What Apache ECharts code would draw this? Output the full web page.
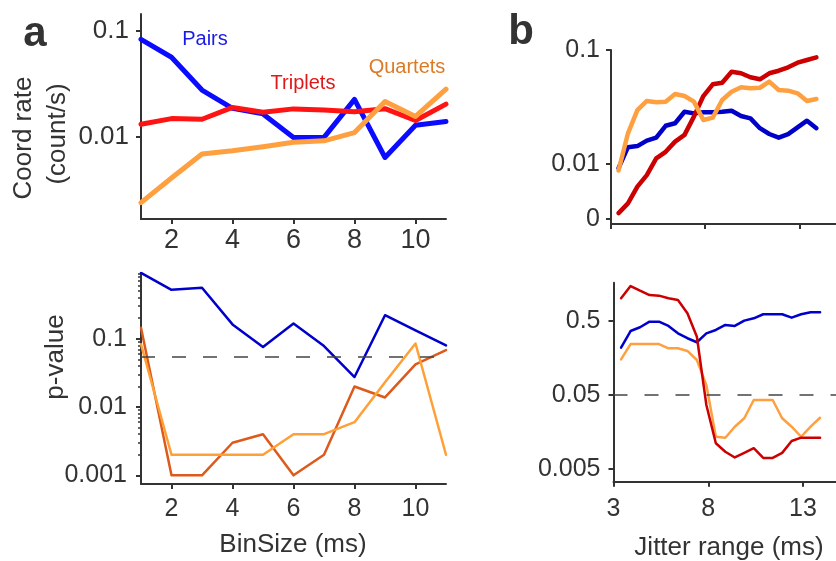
<!DOCTYPE html>
<html>
<head>
<meta charset="utf-8">
<script src="https://cdn.jsdelivr.net/npm/echarts@6/dist/echarts.min.js"></script>
<style>
  html, body { margin: 0; padding: 0; background: #fff; }
  #chart { width: 836px; height: 561px; }
</style>
</head>
<body>
<div id="chart"></div>
<script>
// ---- Panel a: coordination rate and p-value against bin size ----
const binSize = [1, 2, 3, 4, 5, 6, 7, 8, 9, 10, 11];
const binTicks = [2, 4, 6, 8, 10];

const ratePairs    = [0.0834, 0.0565, 0.0277, 0.0186, 0.0165, 0.0099, 0.0099, 0.0226, 0.0064, 0.0129, 0.0140];
const rateTriplets = [0.0132, 0.0149, 0.0147, 0.0190, 0.0171, 0.0184, 0.0180, 0.0173, 0.0185, 0.0143, 0.0204];
const rateQuartets = [0.0024, 0.0041, 0.0069, 0.0074, 0.0081, 0.0089, 0.0092, 0.0110, 0.0216, 0.0156, 0.0282];

const pPairs    = [0.92, 0.52, 0.556, 0.162, 0.0755, 0.167, 0.078, 0.0275, 0.221, 0.132, 0.080];
const pTriplets = [0.145, 0.001, 0.001, 0.003, 0.004, 0.001, 0.002, 0.020, 0.0138, 0.042, 0.068];
const pQuartets = [0.083, 0.002, 0.002, 0.002, 0.002, 0.004, 0.004, 0.006, 0.023, 0.085, 0.002];
const pThresholdA = 0.054;

const rateTicksA = [0.01, 0.1];
const pTicksA = [0.001, 0.01, 0.1];

// ---- Panel b: coordination rate and p-value against jitter range ----
const jitterRange = [3.4, 3.9, 4.4, 4.9, 5.4, 5.9, 6.4, 6.9, 7.4, 7.9, 8.4,
                     8.9, 9.4, 9.9, 10.4, 10.9, 11.4, 11.9, 12.4, 12.9, 13.4, 13.9];
const jitterTicks = [3, 8, 13];

const jitRatePairs    = [0.0089, 0.0153, 0.0157, 0.0178, 0.0190, 0.0245, 0.0258, 0.0325, 0.0315, 0.0322, 0.0322,
                         0.0325, 0.0332, 0.0299, 0.0285, 0.0233, 0.0206, 0.0190, 0.0205, 0.0237, 0.0272, 0.0233];
const jitRateTriplets = [0.0007, 0.0020, 0.0048, 0.0072, 0.0116, 0.0137, 0.0174, 0.0202, 0.0295, 0.0439, 0.0545,
                         0.0561, 0.0684, 0.0665, 0.0619, 0.0597, 0.0665, 0.0696, 0.0739, 0.0802, 0.0841, 0.0881];
const jitRateQuartets = [0.0083, 0.0209, 0.0336, 0.0400, 0.0390, 0.0395, 0.0456, 0.0439, 0.0395, 0.0276, 0.0289,
                         0.0408, 0.0476, 0.0516, 0.0507, 0.0512, 0.0572, 0.0491, 0.0485, 0.0462, 0.0400, 0.0415];

const jitPPairs    = [0.217, 0.364, 0.409, 0.486, 0.486, 0.426, 0.339, 0.291, 0.257, 0.339, 0.376,
                      0.439, 0.426, 0.502, 0.540, 0.612, 0.612, 0.612, 0.551, 0.612, 0.651, 0.651];
const jitPTriplets = [1.005, 1.47, 1.27, 1.11, 1.09, 1.005, 0.953, 0.631, 0.305, 0.0367, 0.0112,
                      0.0086, 0.0072, 0.0083, 0.0096, 0.0071, 0.0071, 0.0083, 0.0120, 0.0133, 0.0133, 0.0133];
const jitPQuartets = [0.151, 0.243, 0.243, 0.243, 0.243, 0.213, 0.213, 0.196, 0.148, 0.068, 0.0137,
                      0.0133, 0.0187, 0.0243, 0.0428, 0.0428, 0.0428, 0.0243, 0.0187, 0.0137, 0.0187, 0.0247];
const pThresholdB = 0.05;

const rateTicksB = [0, 0.01, 0.1];
const pTicksB = [0.005, 0.05, 0.5];

// ---- scale transforms (log axes drawn on value axes) ----
const RATE_OFFSET = 0.007;                  // offset so that a zero rate can be shown on the log scale
const lg = v => Math.log10(v);
const lgOff = v => Math.log10(v + RATE_OFFSET);
const pts = (xs, vs, f) => xs.map((x, i) => [x, f(vs[i])]);
const key = v => v.toFixed(5);
function tickSet(values, f) {
  const map = {};
  values.forEach(v => { map[key(f(v))] = String(v); });
  return { positions: values.map(f), fmt: t => (map[key(t)] !== undefined ? map[key(t)] : '') };
}
const yTickA1 = tickSet(rateTicksA, lg);
const yTickA2 = tickSet(pTicksA, lg);
const yTickB1 = tickSet(rateTicksB, lgOff);
const yTickB2 = tickSet(pTicksB, lg);
const minorA2 = [];
[0.001, 0.01, 0.1].forEach(d => { for (let k = 2; k <= 9; k++) minorA2.push(lg(k * d)); });

// ---- styling ----
const INK = '#333333';
const FONT = 'Liberation Sans, Arial, Helvetica, sans-serif';
const axisLine = { show: true, onZero: false, lineStyle: { color: INK, width: 2 } };
const axisTick = (vals, len) => ({ show: true, inside: false, length: len, customValues: vals, lineStyle: { color: INK, width: 2 } });
const label = (vals, fmt, margin, size, show) => ({
  show: show !== false, customValues: vals, formatter: fmt, margin: margin,
  color: INK, fontSize: size, fontFamily: FONT
});
const line = (name, xi, yi, data, color, width, extra) => Object.assign({
  name, type: 'line', xAxisIndex: xi, yAxisIndex: yi, data,
  symbol: 'none', smooth: false, clip: true,
  lineStyle: { color, width, cap: 'round', join: 'round' }, itemStyle: { color },
  emphasis: { disabled: true }, silent: true
}, extra || {});
const dashed = v => ({
  silent: true, symbol: 'none', animation: false,
  label: { show: false },
  lineStyle: { type: [14, 17], color: '#444', width: 1.6 },
  data: [{ yAxis: v }]
});

const C = {
  blueA: '#0b0bff', redA: '#ff1414', orangeA: '#ffa040',
  blueP: '#0000cc', darkOrangeP: '#dc5a1c', orangeP: '#ffa036',
  blueB: '#0000c8', redB: '#cc0000', orangeB: '#ffa040'
};

const option = {
  animation: false,
  backgroundColor: '#ffffff',
  grid: [
    { left: 141, top: 14, width: 305, height: 205, outerBoundsMode: 'none' },
    { left: 141, top: 273, width: 305, height: 211, outerBoundsMode: 'none' },
    { left: 611, top: 50, width: 225, height: 174, outerBoundsMode: 'none' },
    { left: 613.5, top: 282.7, width: 222.5, height: 199, outerBoundsMode: 'none' }
  ],
  xAxis: [
    { type: 'value', gridIndex: 0, position: 'bottom', min: 1, max: 11, axisLine, axisTick: axisTick(binTicks, 5),
      axisLabel: label(binTicks, v => String(v), 8, 27), splitLine: { show: false } },
    { type: 'value', gridIndex: 1, position: 'bottom', min: 1, max: 11, axisLine, axisTick: axisTick(binTicks, 5),
      axisLabel: label(binTicks, v => String(v), 13, 25), splitLine: { show: false } },
    { type: 'value', gridIndex: 2, position: 'bottom', min: 3, max: 14.94, axisLine, axisTick: axisTick(jitterTicks, 5),
      axisLabel: label(jitterTicks, v => String(v), 10, 25, false), splitLine: { show: false } },
    { type: 'value', gridIndex: 3, position: 'bottom', min: 3, max: 14.74, axisLine, axisTick: axisTick(jitterTicks, 5),
      axisLabel: label(jitterTicks, v => String(v), 15, 25), splitLine: { show: false } }
  ],
  yAxis: [
    { type: 'value', gridIndex: 0, position: 'left', min: -2.774, max: -0.84, axisLine,
      axisTick: axisTick(yTickA1.positions, 5),
      axisLabel: label(yTickA1.positions, yTickA1.fmt, 12, 26), splitLine: { show: false } },
    { type: 'value', gridIndex: 1, position: 'left', min: -3.127, max: -0.038, axisLine,
      axisTick: axisTick(yTickA2.positions, 5),
      axisLabel: label(yTickA2.positions, yTickA2.fmt, 14, 25), splitLine: { show: false } },
    { type: 'value', gridIndex: 2, position: 'left', min: -2.19, max: lgOff(0.1), axisLine,
      axisTick: axisTick(yTickB1.positions, 5),
      axisLabel: label(yTickB1.positions, yTickB1.fmt, 11, 25), splitLine: { show: false } },
    { type: 'value', gridIndex: 3, position: 'left', min: -2.469, max: 0.212, axisLine,
      axisTick: axisTick(yTickB2.positions, 5),
      axisLabel: label(yTickB2.positions, yTickB2.fmt, 13, 25), splitLine: { show: false } },
    // minor log ticks on the p-value axis of panel a
    { type: 'value', gridIndex: 1, position: 'left', offset: 0, min: -3.127, max: -0.038,
      axisLine: { show: false, onZero: false },
      axisTick: { show: true, inside: false, length: 3, customValues: minorA2, lineStyle: { color: INK, width: 1.5 } },
      axisLabel: { show: false }, splitLine: { show: false } }
  ],
  series: [
    // panel a, coordination rate
    line('Pairs', 0, 0, pts(binSize, ratePairs, lg), C.blueA, 5),
    line('Triplets', 0, 0, pts(binSize, rateTriplets, lg), C.redA, 5),
    line('Quartets', 0, 0, pts(binSize, rateQuartets, lg), C.orangeA, 5),
    // panel a, p-value
    line('Pairs p', 1, 1, pts(binSize, pPairs, lg), C.blueP, 2.5, { markLine: dashed(lg(pThresholdA)) }),
    line('Triplets p', 1, 1, pts(binSize, pTriplets, lg), C.darkOrangeP, 2.5),
    line('Quartets p', 1, 1, pts(binSize, pQuartets, lg), C.orangeP, 2.5),
    // panel b, coordination rate
    line('Pairs jitter', 2, 2, pts(jitterRange, jitRatePairs, lgOff), C.blueB, 4.5),
    line('Triplets jitter', 2, 2, pts(jitterRange, jitRateTriplets, lgOff), C.redB, 4.5),
    line('Quartets jitter', 2, 2, pts(jitterRange, jitRateQuartets, lgOff), C.orangeB, 4.5),
    // panel b, p-value
    line('Pairs jitter p', 3, 3, pts(jitterRange, jitPPairs, lg), C.blueP, 2.5, { markLine: dashed(lg(pThresholdB)) }),
    line('Quartets jitter p', 3, 3, pts(jitterRange, jitPQuartets, lg), C.orangeB, 2.5),
    line('Triplets jitter p', 3, 3, pts(jitterRange, jitPTriplets, lg), C.redB, 2.5)
  ],
  graphic: [
    { type: 'text', x: 35, y: 34, style: { text: 'a', font: 'bold 42px ' + FONT, fill: '#333', textAlign: 'center', textVerticalAlign: 'middle' } },
    { type: 'text', x: 521, y: 32, style: { text: 'b', font: 'bold 42px ' + FONT, fill: '#333', textAlign: 'center', textVerticalAlign: 'middle' } },
    { type: 'text', x: 24, y: 138, rotation: Math.PI / 2, style: { text: 'Coord rate', font: '26px ' + FONT, fill: INK, textAlign: 'center', textVerticalAlign: 'middle' } },
    { type: 'text', x: 58, y: 134, rotation: Math.PI / 2, style: { text: '(count/s)', font: '26px ' + FONT, fill: INK, textAlign: 'center', textVerticalAlign: 'middle' } },
    { type: 'text', x: 56, y: 357, rotation: Math.PI / 2, style: { text: 'p-value', font: '26px ' + FONT, fill: INK, textAlign: 'center', textVerticalAlign: 'middle' } },
    { type: 'text', x: 293, y: 545, style: { text: 'BinSize (ms)', font: '26px ' + FONT, fill: INK, textAlign: 'center', textVerticalAlign: 'middle' } },
    { type: 'text', x: 729, y: 548, style: { text: 'Jitter range (ms)', font: '26px ' + FONT, fill: INK, textAlign: 'center', textVerticalAlign: 'middle' } },
    { type: 'text', x: 205, y: 39, style: { text: 'Pairs', font: '20px ' + FONT, fill: '#1a1ae6', textAlign: 'center', textVerticalAlign: 'middle' } },
    { type: 'text', x: 303, y: 83, style: { text: 'Triplets', font: '20px ' + FONT, fill: '#e01818', textAlign: 'center', textVerticalAlign: 'middle' } },
    { type: 'text', x: 407, y: 67, style: { text: 'Quartets', font: '20px ' + FONT, fill: '#dc7a26', textAlign: 'center', textVerticalAlign: 'middle' } }
  ]
};

const chart = echarts.init(document.getElementById('chart'), null, { renderer: 'canvas' });
chart.setOption(option);
</script>
</body>
</html>
